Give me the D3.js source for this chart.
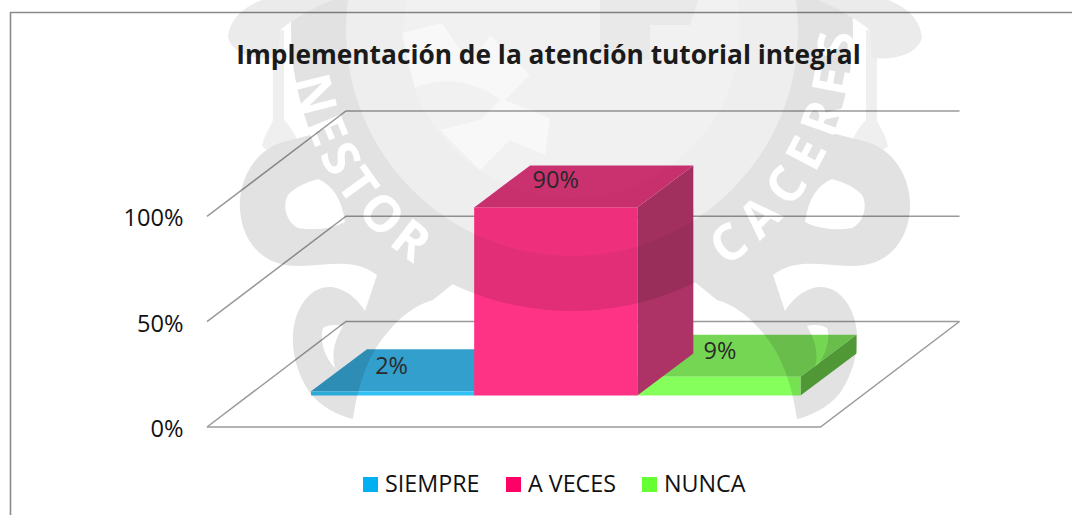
<!DOCTYPE html>
<html><head><meta charset="utf-8">
<script src="https://cdn.jsdelivr.net/npm/d3@7"></script>
<style>html,body{margin:0;padding:0;background:#fff;overflow:hidden}svg{display:block}text{font-family:"Open Sans",sans-serif}</style>
</head><body><svg id="c" width="1072" height="515"></svg>
<script>
const titleText = "Implementación de la atención tutorial integral";
const categories = ["SIEMPRE", "A VECES", "NUNCA"];
const values = [2, 90, 9];
const legendColors = ["#00b0f0", "#ff0066", "#66ff33"];
const frontColors = ["#33c0f3", "#ff3385", "#85ff5c"];
const topColors = ["#339fcd", "#d63375", "#75d654"];
const sideColors = ["#2b8fb8", "#ad3366", "#5aaa3c"];
const axisTicks = [0, 50, 100];

const W = 1072, H = 515;
const svg = d3.select("#c");

// Scales
const yFloor = d3.scaleLinear().domain([0, 100]).range([427, 216.4]);
const yBar = d3.scaleLinear().domain([0, 100]).range([395.5, 186.5]);
const xBar = d3.scaleBand().domain(categories).range([311, 800.5]).padding(0);
const depth = { x: 56, y: -42 };
const wall = { x: 139, y: -105.5, w: 613.5, x0: 207 };

// Frame
svg.append("path").attr("d", `M10.5,515V12.5H${W}`).attr("fill", "none").attr("stroke", "#8a8a8a").attr("stroke-width", 1.6);

// Grid
const grid = svg.append("g").attr("fill", "none").attr("stroke", "#9a9a9a").attr("stroke-width", 1.5);
axisTicks.forEach(t => {
  const y = yFloor(t);
  grid.append("path").attr("d", `M${wall.x0},${y}L${wall.x0 + wall.x},${y + wall.y}H${wall.x0 + wall.x + wall.w}`);
});
{
  const y = yFloor(0);
  grid.append("path").attr("d", `M${wall.x0},${y}H${wall.x0 + wall.w}L${wall.x0 + wall.w + wall.x},${y + wall.y}`);
}

// Axis
const axis = d3.axisLeft(yFloor).tickValues(axisTicks).tickSize(0).tickPadding(0).tickFormat(d => d + "%");
const ax = svg.append("g").attr("transform", "translate(183.5,1)").call(axis);
ax.select(".domain").remove();
ax.selectAll("text").attr("font-size", 23.6).attr("fill", "#111").style("font-family", '"Open Sans",sans-serif').attr("dy", "0.36em");

// Bars, back to front
const order = [0, 2, 1];
const bars = svg.append("g");
order.forEach(i => {
  const c = categories[i], x0 = xBar(c), x1 = x0 + xBar.bandwidth();
  const yT = yBar(values[i]), yB = yBar(0);
  const line = d3.line();
  bars.append("path").attr("fill", sideColors[i]).attr("d", line([[x1, yT], [x1 + depth.x, yT + depth.y], [x1 + depth.x, yB + depth.y], [x1, yB]]) + "Z");
  bars.append("path").attr("fill", topColors[i]).attr("d", line([[x0, yT], [x0 + depth.x, yT + depth.y], [x1 + depth.x, yT + depth.y], [x1, yT]]) + "Z");
  bars.append("rect").attr("x", x0).attr("y", yT).attr("width", x1 - x0).attr("height", yB - yT).attr("fill", frontColors[i]);
});

// Data labels
svg.append("g").selectAll("text").data(categories).join("text")
  .attr("x", (c, i) => xBar(c) + xBar.bandwidth() / 2 + [-1, 0, 1][i])
  .attr("y", (c, i) => yBar(values[i]) + [-17, -19, -18][i])
  .attr("text-anchor", "middle").attr("font-size", 23.5).attr("fill", "#2a2a2a")
  .text((c, i) => values[i] + "%");

// Title
svg.append("text").attr("x", 548.5).attr("y", 64).attr("text-anchor", "middle")
  .attr("font-size", 26.3).attr("font-weight", 700).attr("fill", "#1c1c1c").text(titleText);

// Legend
const legendX = [363, 506, 642];
const lg = svg.append("g");
categories.forEach((c, i) => {
  lg.append("rect").attr("x", legendX[i]).attr("y", 477).attr("width", 15).attr("height", 15).attr("fill", legendColors[i]);
  lg.append("text").attr("x", legendX[i] + 22).attr("y", 492).attr("font-size", 23.3).attr("fill", "#111").text(c);
});

// Watermark seal (background decoration of the source page), multiplied over everything
const wm = svg.append("g").style("mix-blend-mode", "multiply");
const G = "#e2e2e2", L = "#eeeeee";
const cx = 572, cy = 30;
function side(g) {
  // pillar and bell
  g.append("path").attr("fill", "#efefef").attr("d", "M273,30H284V120C294,130 299,142 300,150C290,155 270,155 262,146C264,135 270,128 273,120Z");
  // scrolls
  g.append("path").attr("fill", G).attr("d", "M283,142C255,150 238,180 240,210C243,245 265,267 300,266C330,265 355,258 377,275L365,311C352,290 325,275 305,300C288,322 288,360 310,393C322,408 340,416 353,419C358,385 368,355 387,333C400,317 415,305 433,300L470,270L470,150L330,130Z");
  g.append("path").attr("fill", "#fff").attr("d", "M318,179C333,185 342,200 345,222C335,228 315,231 298,228C286,222 282,205 288,195C296,186 308,182 318,179Z");
  g.append("path").attr("fill", "#fff").attr("d", "M323,328C330,324 338,325 343,326C335,340 331,352 335,368C325,358 319,340 323,328Z");
}
side(wm.append("g"));
side(wm.append("g").attr("transform", `translate(${2 * 575},0) scale(-1,1)`));

// ring + inner discs
wm.append("circle").attr("cx", cx).attr("cy", cy).attr("r", 281).attr("fill", G);
wm.append("circle").attr("cx", cx).attr("cy", cy).attr("r", 226).attr("fill", L);
wm.append("circle").attr("cx", cx).attr("cy", cy).attr("r", 168).attr("fill", "#f1f1f1");
// caps drawn over the ring
[wm.append("g"), wm.append("g").attr("transform", `translate(${2 * 575},0) scale(-1,1)`)].forEach(g => {
  g.append("path").attr("fill", "#ebebeb").attr("d", "M228,38C230,15 250,2 275,-4L345,-4C320,3 295,18 280,30L278,58C258,60 234,56 228,38Z");
});
// emblem
wm.append("path").attr("fill", "#f8f8f8").attr("d", "M402,33L442,23L470,65L490,35L530,75L505,100L550,118L545,155L510,140L480,170L440,130L480,120L500,100C470,75 430,80 415,88Z");
wm.append("path").attr("fill", "#e9e9e9").attr("d", "M600,-5H700L690,25H650V60H600Z");
// lettering
const rText = 282;
const pt = a => [cx + rText * Math.cos(a * Math.PI / 180), cy + rText * Math.sin(a * Math.PI / 180)];
const arc = (id, a0, a1) => {
  const p0 = pt(a0), p1 = pt(a1);
  svg.append("defs").append("path").attr("id", id).attr("d", `M${p0}A${rText},${rText} 0 0 0 ${p1}`);
};
arc("a1", 170, 120);
arc("a2", 57, -4);
[["a1", "NESTOR", 226], ["a2", "CACERES", 278]].forEach(([id, t, len]) => {
  wm.append("text").attr("fill", "#fff").attr("font-size", 50).attr("font-weight", 700)
    .append("textPath").attr("href", "#" + id).attr("textLength", len).attr("lengthAdjust", "spacing").text(t);
});
</script></body></html>
